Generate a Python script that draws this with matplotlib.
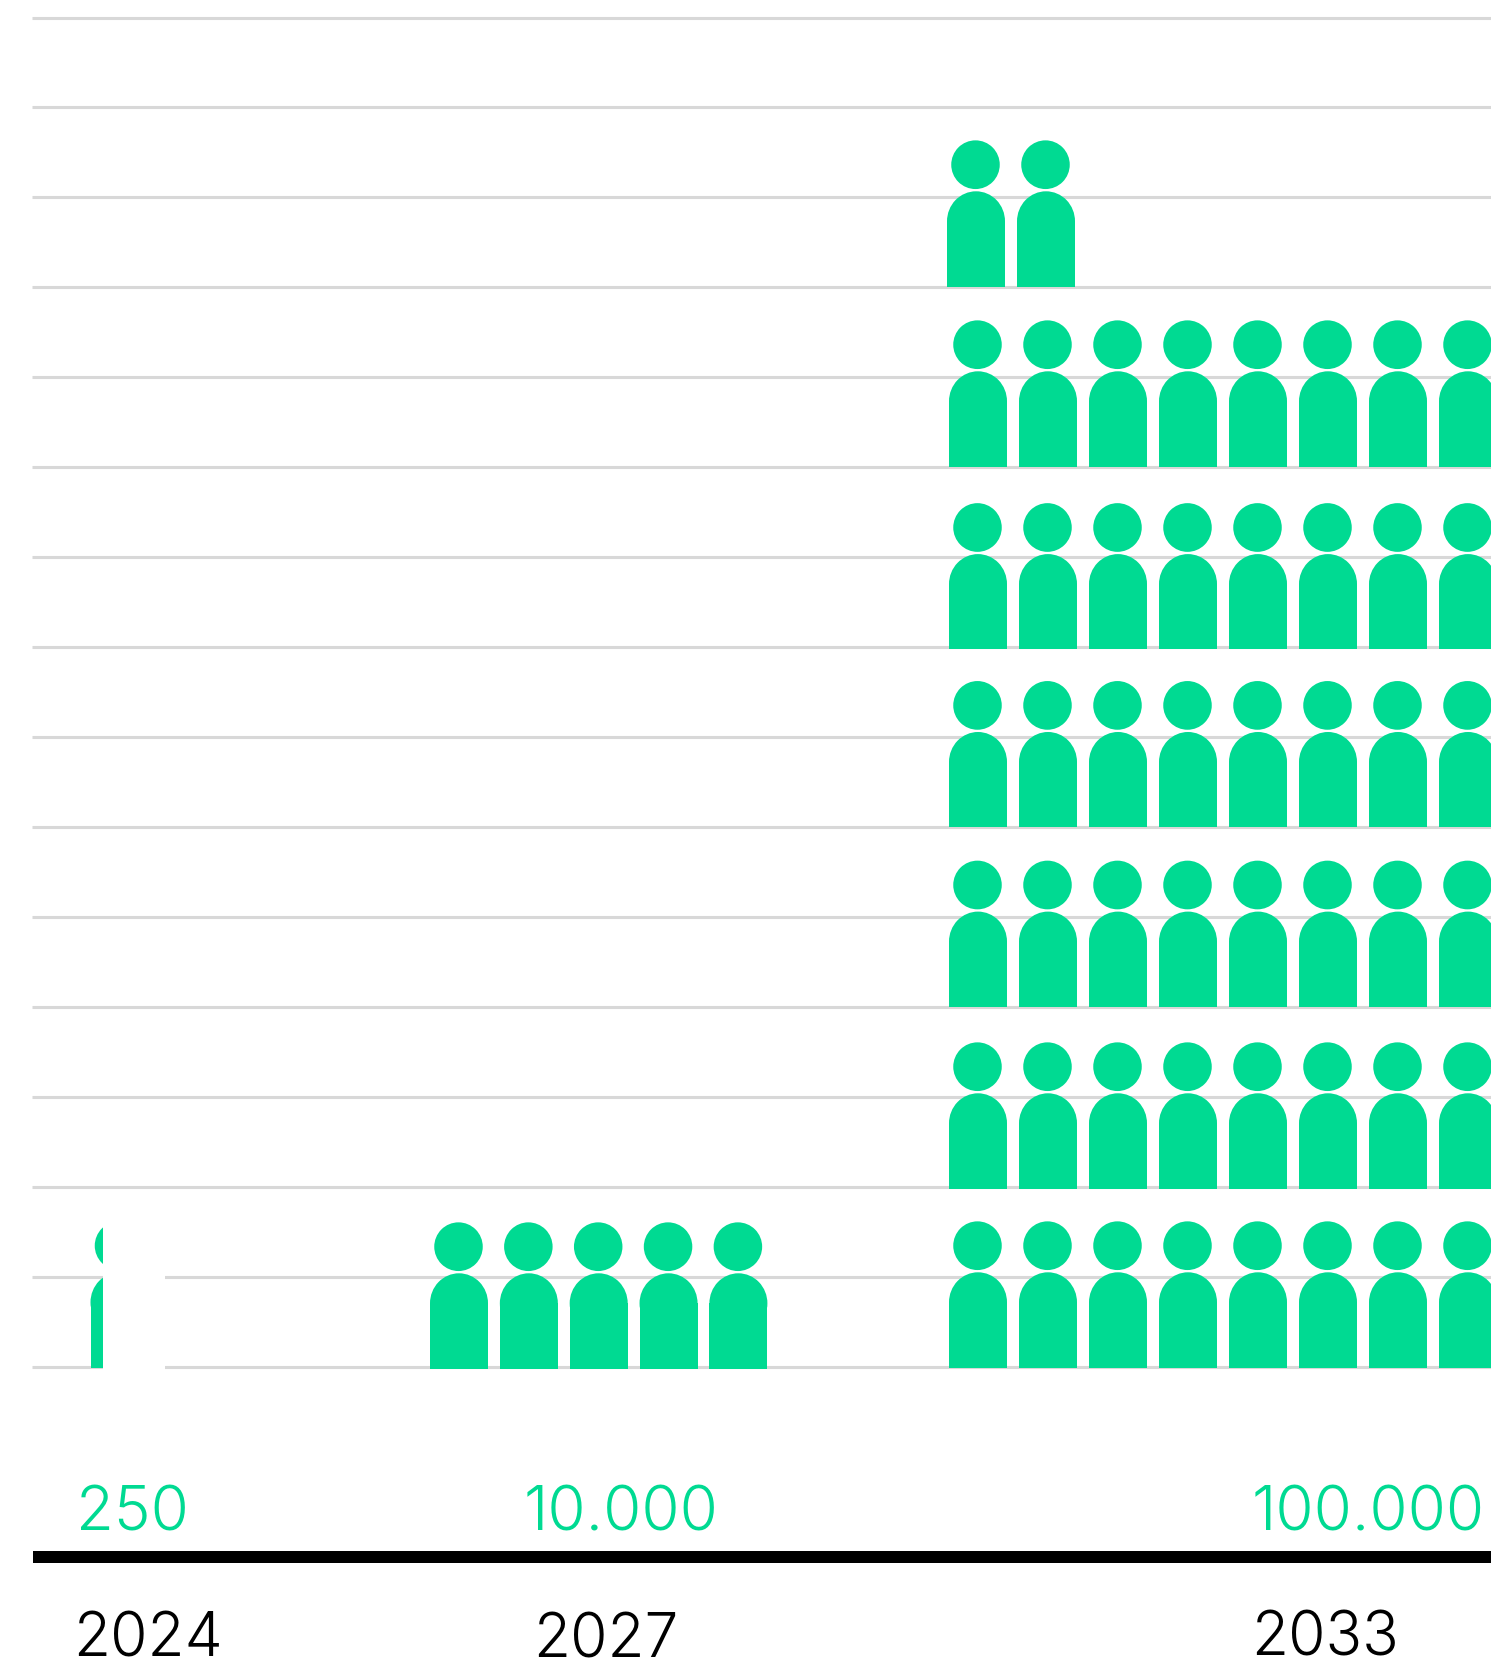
import matplotlib
matplotlib.use("Agg")
import matplotlib.pyplot as plt
import numpy as np
from matplotlib.patches import Ellipse, Rectangle

# data
years = ["2024", "2027", "2033"]
values = [250, 10000, 100000]
value_labels = ["250", "10.000", "100.000"]
per_icon = 2000
icons_per_row = 8
n_gridlines = 16

GREEN = "#00da92"
GRID = "#d8d8d8"
FONT = "Inter"

# layout, all in image pixels
group_left = [90.5, 430, 949]
group_step = [70, 69.85, 70]
group_drop = [0, 1, 0]
row_bottoms = [1367.7, 1188.7, 1007, 827.4, 649.5, 466.7, 286.7]
value_x = [132, 621, 1368]
year_x = [148, 605.5, 1324.5]
year_base = [1656.7, 1658, 1655]

fig = plt.figure(figsize=(14.91, 16.63), dpi=100)
ax = fig.add_axes([0, 0, 1, 1])
ax.set_xlim(0, 1491)
ax.set_ylim(1663, 0)
ax.axis("off")


def draw_person(left, bottom):
    body_w, body_h, cap_h = 58, 95.4, 60
    head_w, head_h = 48.5, 48.7
    top = bottom - body_h
    cx = left + body_w / 2
    ax.add_patch(Rectangle((left, top + cap_h / 2), body_w, body_h - cap_h / 2,
                           fc=GREEN, ec="none", zorder=3))
    ax.add_patch(Ellipse((cx, top + cap_h / 2), body_w, cap_h, fc=GREEN, ec="none", zorder=3))
    ax.add_patch(Ellipse((cx - 0.5, bottom - 122), head_w, head_h, fc=GREEN, ec="none", zorder=3))


# gridlines
for y in np.linspace(17.5, 1367, n_gridlines):
    ax.plot([32, 1491], [y, y], color=GRID, lw=2.2, solid_capstyle="butt", zorder=1)

# icons
for g in range(len(years)):
    n = int(np.ceil(values[g] / per_icon))
    for i in range(n):
        row = i // icons_per_row
        col = i % icons_per_row
        shift = -2 if row == 6 else 0
        draw_person(group_left[g] + col * group_step[g] + shift, row_bottoms[row] + group_drop[g])

# the 250 icon is only partly shown, white block hides the rest
ax.add_patch(Rectangle((103, 1195), 62, 177, fc="white", ec="none", zorder=4))

# axis line
ax.add_patch(Rectangle((33, 1550.7), 1458, 12, fc="black", ec="none", zorder=3))

for g in range(len(years)):
    ax.text(value_x[g], 1530.7, value_labels[g], color=GREEN, fontsize=44.5,
            family=FONT, weight=300, ha="center", va="baseline")
    ax.text(year_x[g], year_base[g], years[g], color="black", fontsize=43.5,
            family=FONT, weight=300, ha="center", va="baseline")

fig.savefig("out.png", dpi=100, facecolor="white")
